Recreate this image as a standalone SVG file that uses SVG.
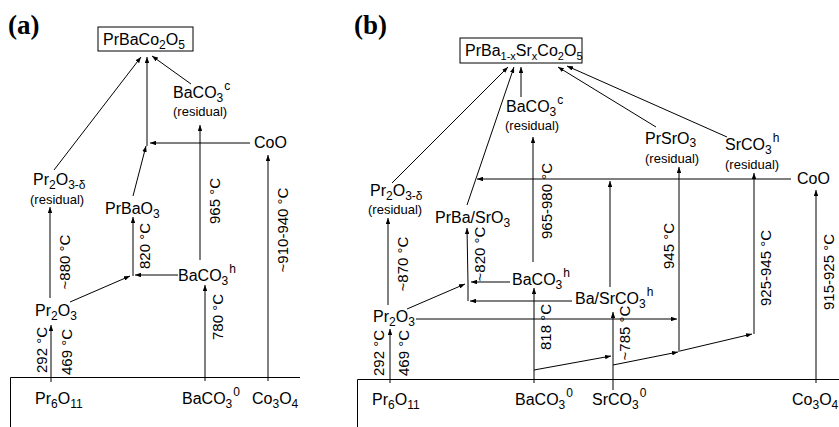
<svg xmlns="http://www.w3.org/2000/svg" width="839" height="427" viewBox="0 0 839 427">
<style>
text{font-family:"Liberation Sans",Arial,sans-serif;fill:#000}
.t{font-size:16px}
.s{font-size:12px}
.bs{font-size:11px}
.res{font-size:13px}
.rot{font-size:15px;text-anchor:middle}
.lab{font-family:"Liberation Serif","Times New Roman",serif;font-weight:bold;font-size:27px}
.ln{stroke:#000;stroke-width:1;fill:none}
.a{marker-end:url(#ah)}
.box{fill:#fff;stroke:#000;stroke-width:1}
</style>
<defs>
<marker id="ah" viewBox="0 0 8 6" refX="8" refY="3" markerWidth="6" markerHeight="4.5" markerUnits="userSpaceOnUse" orient="auto"><path d="M0,0 L8,3 L0,6 z" fill="#000"/></marker>
</defs>
<rect width="839" height="427" fill="#fff"/>

<g id="connectors">
<!-- panel a -->
<path class="ln" d="M10.5,427 V377.5 H300"/>
<line class="ln a" x1="51" y1="382" x2="51" y2="325"/>
<line class="ln a" x1="50" y1="298" x2="50" y2="207"/>
<line class="ln a" x1="70" y1="302" x2="130" y2="276"/>
<line class="ln a" x1="178" y1="275" x2="135" y2="275"/>
<line class="ln a" x1="133" y1="276" x2="133" y2="217"/>
<line class="ln a" x1="205" y1="381" x2="205" y2="285"/>
<line class="ln a" x1="268" y1="381" x2="268" y2="155"/>
<line class="ln a" x1="200" y1="260" x2="200" y2="125"/>
<line class="ln a" x1="250" y1="143" x2="150" y2="143"/>
<line class="ln a" x1="133" y1="196" x2="146" y2="146"/>
<line class="ln a" x1="147" y1="146" x2="147" y2="57"/>
<line class="ln a" x1="54" y1="170" x2="141" y2="57"/>
<line class="ln a" x1="191" y1="84" x2="152" y2="56"/>
<!-- panel b -->
<path class="ln" d="M357.5,427 V379.5 H839"/>
<line class="ln a" x1="390" y1="383" x2="390" y2="329"/>
<line class="ln a" x1="388" y1="305" x2="388" y2="218"/>
<line class="ln a" x1="407" y1="309" x2="465" y2="284"/>
<line class="ln a" x1="510" y1="282" x2="471" y2="282"/>
<line class="ln a" x1="572" y1="301" x2="470" y2="301"/>
<line class="ln" x1="468" y1="301" x2="468" y2="283"/>
<line class="ln a" x1="468" y1="283" x2="467" y2="228"/>
<line class="ln a" x1="467" y1="205" x2="514" y2="67"/>
<line class="ln a" x1="791" y1="179" x2="477" y2="179"/>
<line class="ln a" x1="610" y1="287" x2="610" y2="181"/>
<line class="ln a" x1="533" y1="262" x2="533" y2="137"/>
<line class="ln a" x1="392" y1="183" x2="508" y2="67"/>
<line class="ln a" x1="521" y1="97" x2="521" y2="67"/>
<line class="ln a" x1="656" y1="127" x2="558" y2="67"/>
<line class="ln a" x1="727" y1="137" x2="567" y2="66"/>
<line class="ln a" x1="534" y1="383" x2="534" y2="288"/>
<line class="ln a" x1="613" y1="390" x2="613" y2="312"/>
<line class="ln a" x1="534" y1="370" x2="611" y2="356"/>
<line class="ln a" x1="613" y1="365" x2="678" y2="352"/>
<line class="ln a" x1="680" y1="351" x2="752" y2="334"/>
<line class="ln a" x1="416" y1="319" x2="677" y2="319"/>
<line class="ln a" x1="679" y1="352" x2="679" y2="167"/>
<line class="ln a" x1="754" y1="334" x2="754" y2="173"/>
<line class="ln a" x1="816" y1="383" x2="816" y2="190"/>
</g>

<!-- temperature labels -->
<g id="temps">
<text class="rot" transform="translate(70,262) rotate(-90)">~880 °C</text>
<text class="rot" transform="translate(150,246) rotate(-90)">820 °C</text>
<text class="rot" transform="translate(220,201) rotate(-90)">965 °C</text>
<text class="rot" transform="translate(288,230) rotate(-90)">~910-940 °C</text>
<text class="rot" transform="translate(223,317) rotate(-90)">780 °C</text>
<text class="rot" transform="translate(47,350) rotate(-90)">292 °C</text>
<text class="rot" transform="translate(72,352) rotate(-90)">469 °C</text>
<text class="rot" transform="translate(408,264) rotate(-90)">~870 °C</text>
<text class="rot" transform="translate(384,353) rotate(-90)">292 °C</text>
<text class="rot" transform="translate(409,353) rotate(-90)">469 °C</text>
<text class="rot" transform="translate(485,254) rotate(-90)">~820 °C</text>
<text class="rot" transform="translate(552,201) rotate(-90)">965-980 °C</text>
<text class="rot" transform="translate(551,327) rotate(-90)">818 °C</text>
<text class="rot" transform="translate(630,333) rotate(-90)">~785 °C</text>
<text class="rot" transform="translate(674,246) rotate(-90)">945 °C</text>
<text class="rot" transform="translate(771,268) rotate(-90)">925-945 °C</text>
<text class="rot" transform="translate(834,272) rotate(-90)">915-925 °C</text>
</g>

<!-- panel a nodes -->
<g id="a_label"><text class="lab" x="8" y="34">(a)</text></g>
<g id="a_product"><rect class="box" x="98" y="27" width="95" height="24"/><text class="t" x="103" y="45">PrBaCo<tspan class="s" dy="4">2</tspan><tspan dy="-4">O</tspan><tspan class="s" dy="4">5</tspan></text></g>
<g id="a_BaCO3c"><text class="t" x="173" y="98">BaCO<tspan class="s" dy="4">3</tspan><tspan class="s" dx="1" dy="-12">c</tspan></text><text class="res" x="173" y="116">(residual)</text></g>
<g id="a_CoO"><text class="t" x="254" y="148">CoO</text></g>
<g id="a_Pr2O3d"><text class="t" x="33" y="185">Pr<tspan class="s" dy="4">2</tspan><tspan dy="-4">O</tspan><tspan class="s" dy="4">3-δ</tspan></text><text class="res" x="30" y="204">(residual)</text></g>
<g id="a_PrBaO3"><text class="t" x="105" y="214">PrBaO<tspan class="s" dy="4">3</tspan></text></g>
<g id="a_BaCO3h"><text class="t" x="178" y="281">BaCO<tspan class="s" dy="4">3</tspan><tspan class="s" dx="1" dy="-12">h</tspan></text></g>
<g id="a_Pr2O3"><text class="t" x="35" y="316">Pr<tspan class="s" dy="4">2</tspan><tspan dy="-4">O</tspan><tspan class="s" dy="4">3</tspan></text></g>
<g id="a_Pr6O11"><text class="t" x="35" y="404">Pr<tspan class="s" dy="4">6</tspan><tspan dy="-4">O</tspan><tspan class="s" dy="4">11</tspan></text></g>
<g id="a_BaCO3_0"><text class="t" x="182" y="404">BaCO<tspan class="s" dy="4">3</tspan><tspan class="s" dx="1" dy="-12">0</tspan></text></g>
<g id="a_Co3O4"><text class="t" x="252" y="404">Co<tspan class="s" dy="4">3</tspan><tspan dy="-4">O</tspan><tspan class="s" dy="4">4</tspan></text></g>

<!-- panel b nodes -->
<g id="b_label"><text class="lab" x="354" y="34">(b)</text></g>
<g id="b_product"><rect class="box" x="460" y="38" width="122" height="25"/><text class="t" x="465" y="56">PrBa<tspan class="bs" dy="4">1-x</tspan><tspan dy="-4">Sr</tspan><tspan class="bs" dy="4">x</tspan><tspan dy="-4">Co</tspan><tspan class="bs" dy="4">2</tspan><tspan dy="-4">O</tspan><tspan class="bs" dy="4">5</tspan></text></g>
<g id="b_BaCO3c"><text class="t" x="506" y="112">BaCO<tspan class="s" dy="4">3</tspan><tspan class="s" dx="1" dy="-12">c</tspan></text><text class="res" x="505" y="130">(residual)</text></g>
<g id="b_PrSrO3"><text class="t" x="645" y="144">PrSrO<tspan class="s" dy="3">3</tspan></text><text class="res" x="645" y="163">(residual)</text></g>
<g id="b_SrCO3h"><text class="t" x="725" y="150">SrCO<tspan class="s" dy="4">3</tspan><tspan class="s" dx="1" dy="-12">h</tspan></text><text class="res" x="725" y="169">(residual)</text></g>
<g id="b_CoO"><text class="t" x="797" y="184">CoO</text></g>
<g id="b_Pr2O3d"><text class="t" x="370" y="196">Pr<tspan class="s" dy="4">2</tspan><tspan dy="-4">O</tspan><tspan class="s" dy="4">3-δ</tspan></text><text class="res" x="368" y="214">(residual)</text></g>
<g id="b_PrBaSrO3"><text class="t" x="435" y="223">PrBa/SrO<tspan class="s" dy="4">3</tspan></text></g>
<g id="b_BaCO3h"><text class="t" x="512" y="285">BaCO<tspan class="s" dy="4">3</tspan><tspan class="s" dx="1" dy="-12">h</tspan></text></g>
<g id="b_BaSrCO3h"><text class="t" x="575" y="304">Ba/SrCO<tspan class="s" dy="4">3</tspan><tspan class="s" dx="1" dy="-12">h</tspan></text></g>
<g id="b_Pr2O3"><text class="t" x="373" y="322">Pr<tspan class="s" dy="4">2</tspan><tspan dy="-4">O</tspan><tspan class="s" dy="4">3</tspan></text></g>
<g id="b_Pr6O11"><text class="t" x="372" y="405">Pr<tspan class="s" dy="4">6</tspan><tspan dy="-4">O</tspan><tspan class="s" dy="4">11</tspan></text></g>
<g id="b_BaCO3_0"><text class="t" x="515" y="405">BaCO<tspan class="s" dy="4">3</tspan><tspan class="s" dx="1" dy="-12">0</tspan></text></g>
<g id="b_SrCO3_0"><text class="t" x="592" y="405">SrCO<tspan class="s" dy="4">3</tspan><tspan class="s" dx="1" dy="-12">0</tspan></text></g>
<g id="b_Co3O4"><text class="t" x="792" y="405">Co<tspan class="s" dy="4">3</tspan><tspan dy="-4">O</tspan><tspan class="s" dy="4">4</tspan></text></g>
</svg>
